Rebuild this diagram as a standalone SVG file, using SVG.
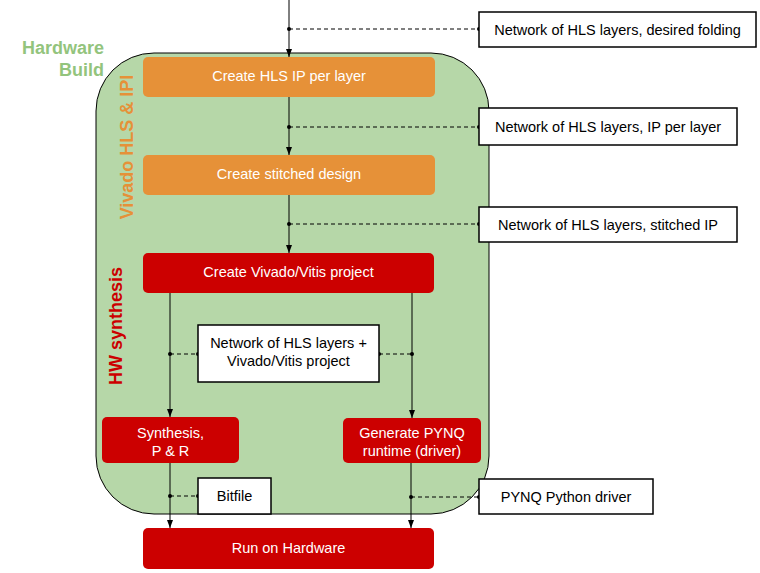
<svg xmlns="http://www.w3.org/2000/svg" width="760" height="573" viewBox="0 0 760 573">
<style>
text{font-family:"Liberation Sans",Arial,sans-serif;font-size:14.5px}
.w{fill:#ffffff;text-anchor:middle}
.b{fill:#000000;text-anchor:middle}
.or{fill:#e69138}
.rd{fill:#cc0000}
.bx{fill:#ffffff;stroke:#000000;stroke-width:1.5}
.ln{stroke:#000000;stroke-width:1;fill:none}
.ds{stroke:#000000;stroke-width:1;fill:none;stroke-dasharray:4,3}
.lbl{font-weight:bold;font-size:18px}
</style>
<defs>
<marker id="ah" viewBox="0 0 8 8" refX="8" refY="4" markerWidth="8" markerHeight="8" markerUnits="userSpaceOnUse" orient="auto">
<path d="M0,1 L8,4 L0,7 Z" fill="#000000"/>
</marker>
</defs>
<g id="container">
<rect x="96" y="53" width="393" height="461" rx="58" ry="58" fill="#b6d7a8" stroke="#000000" stroke-width="1"/>
<text class="lbl" x="104" y="54" fill="#93c47d" text-anchor="end">Hardware</text>
<text class="lbl" x="104" y="76" fill="#93c47d" text-anchor="end">Build</text>
<text class="lbl" transform="translate(133,147) rotate(-90)" fill="#e69138" text-anchor="middle">Vivado HLS &amp; IPI</text>
<text class="lbl" transform="translate(122,326) rotate(-90)" fill="#cc0000" text-anchor="middle">HW synthesis</text>
</g>
<g id="connectors">
<line class="ln" x1="289" y1="0" x2="289" y2="57" marker-end="url(#ah)"/>
<line class="ds" x1="289" y1="29" x2="479" y2="29"/>
<line class="ln" x1="289" y1="97" x2="289" y2="155" marker-end="url(#ah)"/>
<line class="ds" x1="289" y1="127" x2="479" y2="127"/>
<line class="ln" x1="289" y1="195" x2="289" y2="253" marker-end="url(#ah)"/>
<line class="ds" x1="289" y1="224" x2="479" y2="224"/>
<line class="ln" x1="170" y1="293" x2="170" y2="417" marker-end="url(#ah)"/>
<line class="ln" x1="412" y1="293" x2="412" y2="418" marker-end="url(#ah)"/>
<line class="ds" x1="170" y1="354" x2="198" y2="354"/>
<line class="ds" x1="379" y1="354" x2="412" y2="354"/>
<line class="ln" x1="170" y1="463" x2="170" y2="528" marker-end="url(#ah)"/>
<line class="ln" x1="411" y1="463" x2="411" y2="528" marker-end="url(#ah)"/>
<line class="ds" x1="170" y1="496" x2="198" y2="496"/>
<line class="ds" x1="411" y1="497" x2="479" y2="497"/>
<g fill="#000000">
<circle cx="289" cy="29" r="2"/><circle cx="479" cy="29" r="2"/>
<circle cx="289" cy="127" r="2"/><circle cx="479" cy="127" r="2"/>
<circle cx="289" cy="224" r="2"/><circle cx="479" cy="224" r="2"/>
<circle cx="170" cy="354" r="2"/><circle cx="198" cy="354" r="2"/>
<circle cx="379" cy="354" r="2"/><circle cx="412" cy="354" r="2"/>
<circle cx="170" cy="496" r="2"/><circle cx="198" cy="496" r="2"/>
<circle cx="411" cy="497" r="2"/><circle cx="479" cy="497" r="2"/>
</g>
</g>
<g id="n-hls-ip">
<rect class="or" x="143" y="57" width="292" height="40" rx="5"/>
<text class="w" x="289" y="81">Create HLS IP per layer</text>
</g>
<g id="n-stitched">
<rect class="or" x="143" y="155" width="292" height="40" rx="5"/>
<text class="w" x="289" y="179">Create stitched design</text>
</g>
<g id="n-vivado">
<rect class="rd" x="143" y="253" width="291" height="40" rx="5"/>
<text class="w" x="288.5" y="277">Create Vivado/Vitis project</text>
</g>
<g id="n-synth">
<rect class="rd" x="102" y="417" width="137" height="46" rx="5"/>
<text class="w" x="170.5" y="438">Synthesis,</text>
<text class="w" x="170.5" y="456">P &amp; R</text>
</g>
<g id="n-pynq">
<rect class="rd" x="343" y="418" width="138" height="45" rx="5"/>
<text class="w" x="412" y="438">Generate PYNQ</text>
<text class="w" x="412" y="456">runtime (driver)</text>
</g>
<g id="n-run">
<rect class="rd" x="143" y="528" width="291" height="41" rx="5"/>
<text class="w" x="288.5" y="553">Run on Hardware</text>
</g>
<g id="d-folding">
<rect class="bx" x="479" y="12" width="277" height="35"/>
<text class="b" x="617.5" y="34.5">Network of HLS layers, desired folding</text>
</g>
<g id="d-ip">
<rect class="bx" x="479" y="108" width="258" height="37"/>
<text class="b" x="608" y="131.5">Network of HLS layers, IP per layer</text>
</g>
<g id="d-stitched">
<rect class="bx" x="479" y="207" width="258" height="35"/>
<text class="b" x="608" y="229.5">Network of HLS layers, stitched IP</text>
</g>
<g id="d-project">
<rect class="bx" x="198" y="325" width="181" height="57"/>
<text class="b" x="288.5" y="348">Network of HLS layers +</text>
<text class="b" x="288.5" y="366">Vivado/Vitis project</text>
</g>
<g id="d-bitfile">
<rect class="bx" x="198" y="478" width="73" height="36"/>
<text class="b" x="234.5" y="501">Bitfile</text>
</g>
<g id="d-driver">
<rect class="bx" x="479" y="479" width="174" height="35"/>
<text class="b" x="566" y="502">PYNQ Python driver</text>
</g>
</svg>
